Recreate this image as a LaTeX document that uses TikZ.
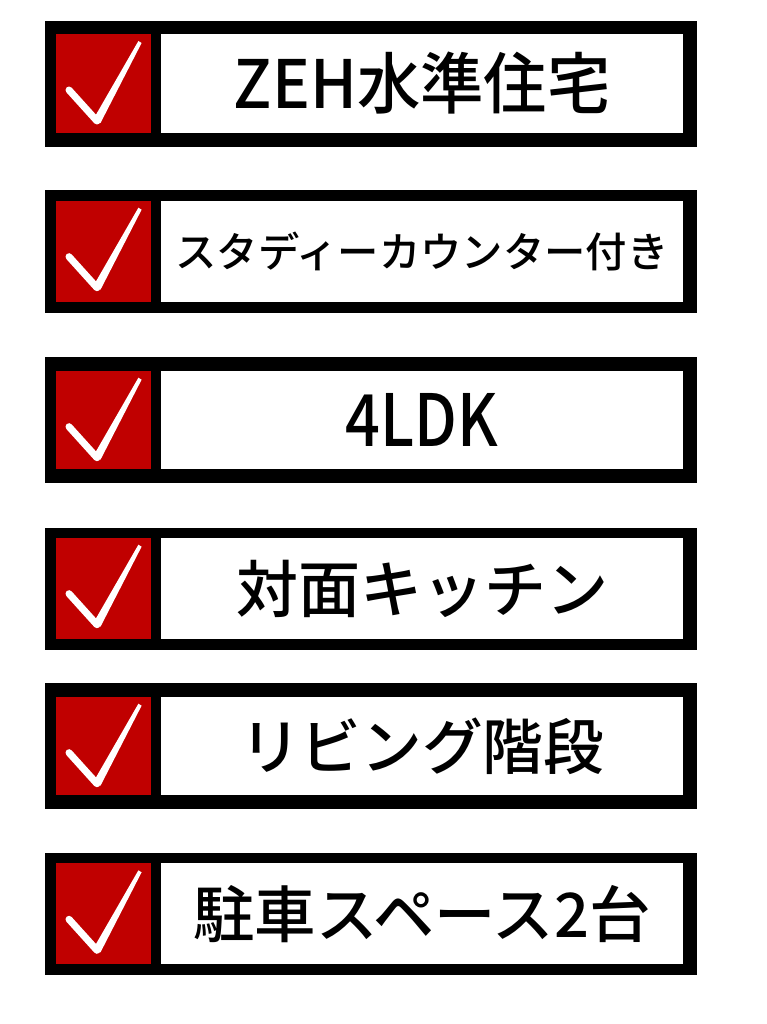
\documentclass[tikz,border=0pt]{standalone}
\usepackage{fontspec}
\setmainfont{Noto Sans CJK JP}[BoldFont={Noto Sans CJK JP Medium}]
\definecolor{tickred}{RGB}{192,0,0}
\tikzset{
  frame/.style={fill=black},
  tickbox/.style={fill=tickred},
  labelbox/.style={fill=white},
  tickline/.style={white, line width=5.25pt, line cap=round},
  itemtext/.style={inner sep=0pt, anchor=center, font=\bfseries}
}

\begin{document}
\begin{tikzpicture}[x=0.75pt,y=0.75pt,yscale=-1,xscale=1]
\useasboundingbox (0,0) rectangle (767,1024);
% one row per item: outer top / inner top / inner bottom / outer bottom / font size / x-scale / text
\foreach \top/\itop/\ibot/\bot/\fs/\sx/\txt [count=\n] in {
    20.7/34/132.7/146.7/50/0.95/ZEH水準住宅,
    190/200.7/301.7/313/31/1/スタディーカウンター付き,
    357.3/370.7/469.3/483.3/54/0.85/4LDK,
    527.7/537.7/639.3/650/46.5/1/対面キッチン,
    682.7/696.7/795/809.3/45.5/1/リビング階段,
    853.3/863.3/964/975/46/1/駐車スペース2台}
{
  %Frame
  \fill[frame] (45.3,\top) rectangle (696.7,\bot);
  \fill[tickbox] (56,\itop) rectangle (150.7,\ibot);
  \fill[labelbox] (160.7,\itop) rectangle (682.7,\ibot);
  %Check mark
  \draw[tickline] (69,\itop+56) -- (97,\itop+87);
  \fill[white] (93.5,\itop+85) -- (138.4,\itop+7) -- (141.6,\itop+9) -- (100.5,\itop+89) -- cycle;
  % Text Node
  \node[itemtext] (item\n) at (422,{(\itop+\ibot)/2}) {\fontsize{\fs}{\fs}\selectfont\scalebox{\sx}[1]{\txt}};
}
\end{tikzpicture}
\end{document}
